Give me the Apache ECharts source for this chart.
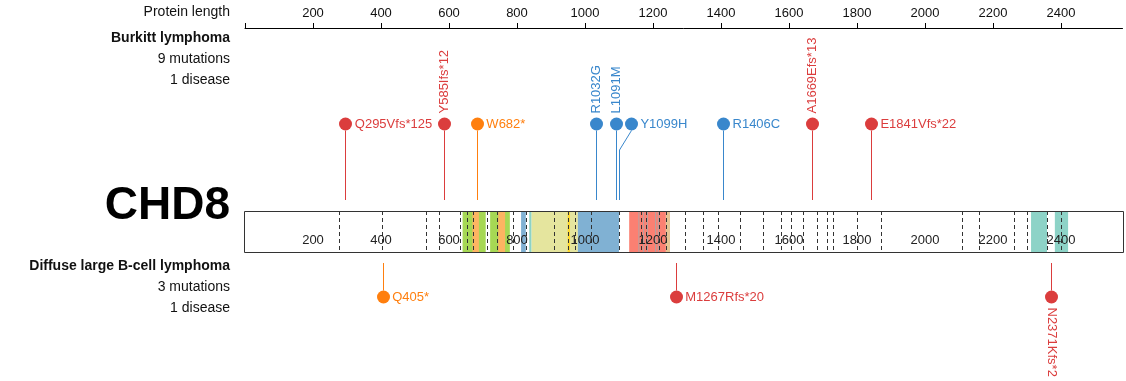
<!DOCTYPE html>
<html><head><meta charset="utf-8">
<script src="https://cdn.jsdelivr.net/npm/echarts@6/dist/echarts.min.js"></script>
<style>html,body{margin:0;padding:0;background:#fff}#c{width:1126px;height:381px}</style>
</head><body><div id="c"></div>
<script>
// ---------------- DATA ----------------
const proteinName = 'CHD8';
const proteinLength = 2581;
const axisTickValues = [200, 400, 600, 800, 1000, 1200, 1400, 1600, 1800, 2000, 2200, 2400];
const exonBoundaries = [277, 403, 532, 571, 632, 653, 671, 712, 741, 788, 826, 909, 950, 971, 1018, 1100,
  1164, 1180, 1218, 1238, 1294, 1347, 1391, 1456, 1524, 1576, 1606, 1641, 1682, 1712, 1729, 1800, 1871,
  2109, 2159, 2262, 2300, 2359, 2400];
const domainStart = [640, 669, 721, 745, 812, 836, 843, 949, 979, 1130, 1157, 1171, 1182, 1206, 1214, 1238, 2312, 2382];
const domainEnd   = [708, 688, 779, 765, 826, 843, 979, 956, 1100, 1238, 1160, 1174, 1185, 1209, 1217, 1250, 2359, 2421];
const domainType  = ['Chromo', 'Chromo motif', 'Chromo', 'Chromo motif', 'SNF2_N', 'DEXDc', 'SNF2 core', 'Walker',
  'SNF2_N', 'Helicase_C', 'HELICc', 'HELICc', 'HELICc', 'HELICc', 'HELICc', 'Linker', 'BRK', 'BRK'];

const track1Disease = 'Burkitt lymphoma';
const track1Pos   = [295, 585, 682, 1032, 1091, 1099, 1406, 1669, 1841];
const track1Label = ['Q295Vfs*125', 'Y585Ifs*12', 'W682*', 'R1032G', 'L1091M', 'Y1099H', 'R1406C', 'A1669Efs*13', 'E1841Vfs*22'];
const track1Class = ['frameshift', 'frameshift', 'nonsense', 'missense', 'missense', 'missense', 'missense', 'frameshift', 'frameshift'];

const track2Disease = 'Diffuse large B-cell lymphoma';
const track2Pos   = [405, 1267, 2371];
const track2Label = ['Q405*', 'M1267Rfs*20', 'N2371Kfs*2'];
const track2Class = ['nonsense', 'frameshift', 'frameshift'];

// ---------------- STYLE / LAYOUT ----------------
const domainColors = {
  'Chromo': '#a6d854', 'Chromo motif': '#fdb462', 'SNF2_N': '#80b1d3', 'DEXDc': '#8dd3c7',
  'SNF2 core': '#e5e59e', 'Walker': '#ffd92f', 'Helicase_C': '#fb8072', 'HELICc': '#b3a3a3',
  'Linker': '#e5c494', 'BRK': '#8dd3c7'
};
const classColors = { frameshift: '#db3d3d', nonsense: '#ff7f0e', missense: '#3987cc' };
const FONT = '"Liberation Sans", Arial, Helvetica, sans-serif';
const W = 1126;
const LEFT = 245, PLOT_W = 877.5;
const BAR_TOP = 211, BAR_BOT = 252;
const R = 6.5, MIN_GAP = 15;

const ctx = document.createElement('canvas').getContext('2d');
ctx.font = '13px ' + FONT;
const measure = t => ctx.measureText(t).width;

function spread(xs, gap) {
  const out = [];
  xs.forEach((x, i) => out.push(i && x - out[i - 1] < gap ? out[i - 1] + gap : x));
  return out;
}

function lollipopSeries(pos, labels, classes, above) {
  const cy = above ? 124 : 297;
  return {
    type: 'custom', xAxisIndex: 0, yAxisIndex: 0, z: 10, silent: true,
    data: pos.map(p => [p, 0]),
    renderItem(params, api) {
      const i = params.dataIndex;
      const ox = pos.map(p => api.coord([p, 0])[0]);
      const dx = spread(ox, MIN_GAP);
      const color = classColors[classes[i]];
      const label = labels[i];
      const start = dx[i] + R + 3;
      const nextLeft = i < pos.length - 1 ? dx[i + 1] - R : W;
      const rotate = start + measure(label) + 2 > nextLeft;
      const x0 = Math.round(ox[i]) + 0.5, x1 = Math.round(dx[i]) + 0.5;
      const pts = above
        ? [[x1, cy + R], [x0, 150], [x0, 200]]
        : [[x0, 263], [x0, 272], [x1, cy - R]];
      const children = [
        { type: 'polyline', shape: { points: pts }, style: { stroke: color, lineWidth: 1, fill: null } },
        { type: 'circle', shape: { cx: x1, cy: cy, r: R }, style: { fill: color } }
      ];
      const ts = { text: label, fill: color, fontSize: 13, fontFamily: FONT, verticalAlign: 'middle', x: 0, y: 0 };
      if (!rotate) {
        children.push({ type: 'text', x: start, y: cy, style: Object.assign({ align: 'left' }, ts) });
      } else if (above) {
        children.push({ type: 'text', x: x1, y: cy - R - 4, rotation: Math.PI / 2, style: Object.assign({ align: 'left' }, ts) });
      } else {
        children.push({ type: 'text', x: x1, y: cy + R + 4, rotation: -Math.PI / 2, style: Object.assign({ align: 'left' }, ts) });
      }
      return { type: 'group', children };
    }
  };
}

const chart = echarts.init(document.getElementById('c'), null, { renderer: 'canvas' });

const leftText = (text, y, opts) => ({
  type: 'text', x: 230, y: y, silent: true,
  style: Object.assign({ text, align: 'right', verticalAlign: 'middle', fill: '#111', fontSize: 14, fontFamily: FONT }, opts || {})
});
const uniq = a => new Set(a).size;

chart.setOption({
  animation: false,
  backgroundColor: '#fff',
  grid: [
    { left: LEFT, width: PLOT_W, top: 0, height: 381 },
    { left: LEFT, width: PLOT_W, top: 27, height: 1 }
  ],
  xAxis: [
    { gridIndex: 0, type: 'value', min: 0, max: proteinLength, show: false },
    { gridIndex: 1, type: 'value', min: 0, max: proteinLength, interval: 200, position: 'top',
      axisLine: { show: true, lineStyle: { color: '#000', width: 1 } },
      axisTick: { show: true, length: 5, inside: false, lineStyle: { color: '#000' } },
      splitLine: { show: false },
      axisLabel: { margin: 7, color: '#111', fontSize: 13, fontFamily: FONT, showMaxLabel: false,
        formatter: v => axisTickValues.includes(v) ? String(v) : '' } }
  ],
  yAxis: [
    { gridIndex: 0, type: 'value', min: 0, max: 1, show: false },
    { gridIndex: 1, type: 'value', min: 0, max: 1, show: false }
  ],
  graphic: [
    leftText('Protein length', 12),
    leftText(track1Disease, 38, { fontWeight: 'bold' }),
    leftText(track1Pos.length + ' mutations', 59),
    leftText(uniq([track1Disease]) + ' disease', 80),
    leftText(proteinName, 206, { fontWeight: 'bold', fontSize: 46, fill: '#000' }),
    leftText(track2Disease, 266, { fontWeight: 'bold' }),
    leftText(track2Pos.length + ' mutations', 287),
    leftText(uniq([track2Disease]) + ' disease', 308)
  ],
  series: [
    { // protein background
      type: 'custom', xAxisIndex: 0, yAxisIndex: 0, z: 1, silent: true,
      data: [[0, 0]],
      renderItem(params, api) {
        const a = api.coord([0, 0])[0], b = api.coord([proteinLength, 0])[0];
        return { type: 'rect', shape: { x: a, y: BAR_TOP, width: b - a, height: BAR_BOT - BAR_TOP }, style: { fill: '#fff' } };
      }
    },
    { // domains
      type: 'custom', xAxisIndex: 0, yAxisIndex: 0, z: 2, silent: true,
      data: domainStart.map(s => [s, 0]),
      renderItem(params, api) {
        const i = params.dataIndex;
        const a = api.coord([domainStart[i], 0])[0], b = api.coord([domainEnd[i], 0])[0];
        return { type: 'rect', shape: { x: a, y: BAR_TOP, width: Math.max(1, b - a), height: BAR_BOT - BAR_TOP },
          style: { fill: domainColors[domainType[i]] } };
      }
    },
    { // exon boundaries
      type: 'custom', xAxisIndex: 0, yAxisIndex: 0, z: 3, silent: true,
      data: exonBoundaries.map(e => [e, 0]),
      renderItem(params, api) {
        const x = Math.round(api.coord([exonBoundaries[params.dataIndex], 0])[0]) + 0.5;
        return { type: 'line', shape: { x1: x, y1: BAR_TOP, x2: x, y2: BAR_BOT },
          style: { stroke: '#333', lineWidth: 1, lineDash: [4, 3] } };
      }
    },
    { // inner scale labels
      type: 'custom', xAxisIndex: 0, yAxisIndex: 0, z: 4, silent: true,
      data: axisTickValues.map(v => [v, 0]),
      renderItem(params, api) {
        const v = axisTickValues[params.dataIndex];
        return { type: 'text', x: api.coord([v, 0])[0], y: 240,
          style: { text: String(v), align: 'center', verticalAlign: 'middle', fill: '#222', fontSize: 13, fontFamily: FONT } };
      }
    },
    { // protein border
      type: 'custom', xAxisIndex: 0, yAxisIndex: 0, z: 5, silent: true,
      data: [[0, 0]],
      renderItem(params, api) {
        const a = Math.round(api.coord([0, 0])[0]) - 0.5, b = Math.round(api.coord([proteinLength, 0])[0]) + 0.5;
        return { type: 'rect', shape: { x: a, y: BAR_TOP + 0.5, width: b - a, height: BAR_BOT - BAR_TOP },
          style: { fill: null, stroke: '#333', lineWidth: 1 } };
      }
    },
    lollipopSeries(track1Pos, track1Label, track1Class, true),
    lollipopSeries(track2Pos, track2Label, track2Class, false)
  ]
});
</script>
</body></html>
